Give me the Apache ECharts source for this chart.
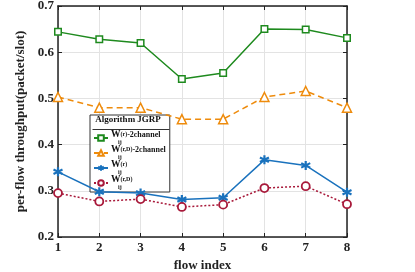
<!DOCTYPE html>
<html><head><meta charset="utf-8">
<script src="https://cdn.jsdelivr.net/npm/echarts@6/dist/echarts.min.js"></script>
<style>html,body{margin:0;padding:0;background:#fff}#c{width:415px;height:272px}</style>
</head><body><div id="c"></div>
<script>
const categories = ['1','2','3','4','5','6','7','8'];
const green2ch = [0.644,0.628,0.620,0.542,0.555,0.650,0.649,0.631];
const orange2ch = [0.503,0.480,0.480,0.455,0.455,0.503,0.516,0.480];
const blueW = [0.341,0.298,0.295,0.281,0.285,0.367,0.355,0.297];
const redW = [0.295,0.277,0.282,0.265,0.270,0.306,0.310,0.271];
const yTicks = [0.2,0.3,0.4,0.5,0.6,0.7];
const legendLabels = {
  g: '{w|W}{sup|(r)}{t|-2channel}\n{sub|ij}',
  o: '{w|W}{sup|(r,D)}{t|-2channel}\n{sub|ij}',
  b: '{w|W}{sup|(r)}\n{sub|ij}',
  r: '{w|W}{sup|(r,D)}\n{sub|ij}'
};
const F = 'Liberation Serif';
const chart = echarts.init(document.getElementById('c'));
const axisFont = {fontFamily:F,fontWeight:'bold',fontSize:13,color:'#222'};
const GREEN='#1e8a1e', ORANGE='#ee8b0c', BLUE='#1a72bd', RED='#a8193a';
chart.setOption({
  animation:false,
  grid:{left:58,right:68,top:6,bottom:35,outerBoundsMode:'none',containLabel:false},
  xAxis:[{type:'category',data:categories,boundaryGap:false,
    axisLine:{lineStyle:{color:'#222',width:1.5}},
    axisTick:{inside:true,length:4,lineStyle:{color:'#222'}},
    axisLabel:Object.assign({margin:4},axisFont),
    splitLine:{show:true,lineStyle:{color:'#e3e3e3',width:1}},
    name:'flow index',nameLocation:'middle',nameGap:19,nameTextStyle:axisFont},
   {type:'category',data:categories,boundaryGap:false,position:'top',
    axisLine:{lineStyle:{color:'#222',width:1.5}},
    axisTick:{inside:true,length:4,lineStyle:{color:'#222'}},
    axisLabel:{show:false},splitLine:{show:false}}],
  yAxis:[{type:'value',min:0.2,max:0.7,interval:0.1,
    axisLine:{show:true,lineStyle:{color:'#222',width:1.5}},
    axisTick:{show:true,inside:true,length:4,lineStyle:{color:'#222'}},
    axisLabel:Object.assign({margin:4,formatter:v=>v.toFixed(1)},axisFont),
    splitLine:{show:true,lineStyle:{color:'#e3e3e3',width:1}},
    name:'per-flow throughput(packet/slot)',nameLocation:'middle',nameGap:20,nameTextStyle:axisFont},
   {type:'value',min:0.2,max:0.7,interval:0.1,position:'right',
    axisLine:{show:true,lineStyle:{color:'#222',width:1.5}},
    axisTick:{show:true,inside:true,length:4,lineStyle:{color:'#222'}},
    axisLabel:{show:false},splitLine:{show:false}}],
  title:{text:'Algorithm JGRP',left:128,top:115,textAlign:'center',padding:0,textStyle:{fontFamily:F,fontWeight:'bold',fontSize:9,color:'#111'}},
  legend:{orient:'vertical',left:90,top:115,padding:[15,4,2,3],itemGap:0,itemWidth:14,itemHeight:7,
    borderColor:'#333',borderWidth:1,backgroundColor:'#fff',z:3,
    data:['g','o','b','r'],
    formatter:n=>legendLabels[n],
    textStyle:{fontFamily:F,fontWeight:'bold',color:'#111',fontSize:8,padding:[0,0,0,-2],
      rich:{w:{fontFamily:F,fontWeight:'bold',fontSize:9.5,lineHeight:8},
        sup:{fontFamily:F,fontWeight:'bold',fontSize:6,verticalAlign:'top',lineHeight:8},
        t:{fontFamily:F,fontWeight:'bold',fontSize:8,lineHeight:8},
        sub:{fontFamily:F,fontWeight:'bold',fontSize:6,lineHeight:6,padding:[0,0,0,7]}}}},
  graphic:[{type:'line',left:90,top:127,z:10,shape:{x1:0,y1:0,x2:77,y2:0},style:{stroke:'#333',lineWidth:1}}],
  series:[
    {name:'g',type:'line',data:green2ch,symbol:'rect',symbolSize:6.5,color:GREEN,
     lineStyle:{width:1.5,color:GREEN},itemStyle:{color:'#fff',borderColor:GREEN,borderWidth:1.5}},
    {name:'o',type:'line',data:orange2ch,symbol:'triangle',symbolSize:9,color:ORANGE,
     lineStyle:{width:1.5,type:[6,4],color:ORANGE},itemStyle:{color:'#fff',borderColor:ORANGE,borderWidth:1.5}},
    {name:'b',type:'line',data:blueW,symbol:'path://M0,-1L0,1M-0.87,-0.5L0.87,0.5M-0.87,0.5L0.87,-0.5',symbolSize:9,color:BLUE,
     lineStyle:{width:1.5,color:BLUE},itemStyle:{color:BLUE,borderColor:BLUE,borderWidth:2.2}},
    {name:'r',type:'line',data:redW,symbol:'circle',symbolSize:8,color:RED,
     lineStyle:{width:1.5,type:[2,2],color:RED},itemStyle:{color:'#fff',borderColor:RED,borderWidth:1.8}}
  ]
});
</script></body></html>
